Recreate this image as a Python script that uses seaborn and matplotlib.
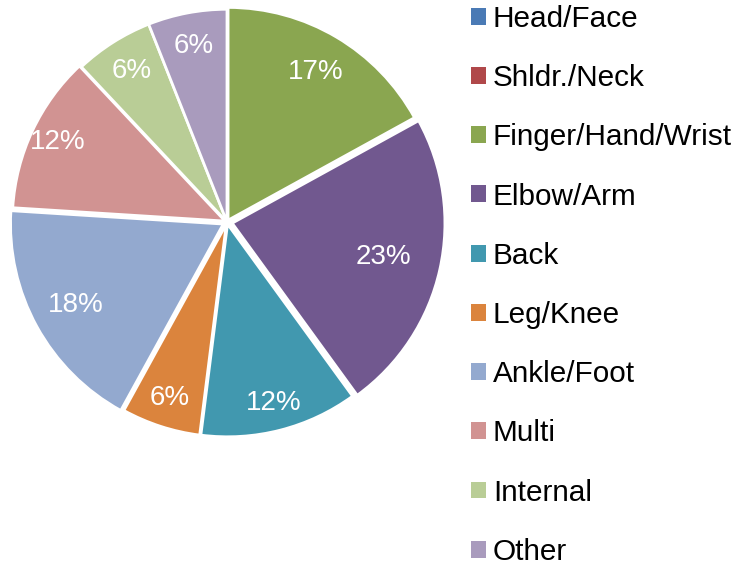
import numpy as np
import matplotlib.pyplot as plt
import seaborn as sns
from matplotlib.patches import Patch

categories = ["Head/Face", "Shldr./Neck", "Finger/Hand/Wrist", "Elbow/Arm", "Back",
              "Leg/Knee", "Ankle/Foot", "Multi", "Internal", "Other"]
shares = [0, 0, 17, 23, 12, 6, 18, 12, 6, 6]
colors = ["#4a7ab5", "#b0484a", "#8aa650", "#71588f", "#4198af",
          "#db843d", "#93a9cf", "#d19392", "#b9cd96", "#a99bbd"]
explode = [0, 0, 0.01, 0.025, 0.01, 0.01, 0.02, 0.01, 0, 0]
# radial position of each percent label (fraction of radius), as Excel placed them
label_dist = [0, 0, 0.81, 0.73, 0.87, 0.86, 0.79, 0.87, 0.84, 0.84]

sns.set_theme(style="white")
plt.rcParams["font.family"] = ["Liberation Sans", "DejaVu Sans"]
palette = sns.color_palette(colors)

fig = plt.figure(figsize=(7.31, 5.65), dpi=100)
ax = fig.add_axes([10 / 731, 126 / 565, 434 / 731, 434 / 565])

wedges, texts, autotexts = ax.pie(
    shares,
    colors=palette,
    startangle=90,
    counterclock=False,
    explode=explode,
    autopct=lambda p: f"{p:.0f}%" if p > 0 else "",
    wedgeprops=dict(edgecolor="white", linewidth=2),
    textprops=dict(color="white", fontsize=20),
)
for w, t, d in zip(wedges, autotexts, label_dist):
    ang = np.deg2rad((w.theta1 + w.theta2) / 2)
    cx, cy = w.center
    t.set_position((cx + d * np.cos(ang), cy + d * np.sin(ang)))

ax.set_xlim(-1.02, 1.02)
ax.set_ylim(-1.02, 1.02)
ax.set_aspect("equal")
ax.axis("off")

handles = [Patch(facecolor=c, edgecolor="none") for c in palette]
leg = fig.legend(
    handles, categories,
    loc="upper left",
    bbox_to_anchor=(459 / 731, 1.0 + 7 / 565),
    frameon=False,
    fontsize=21.4,
    labelspacing=1.05,
    handlelength=0.5,
    handleheight=0.5,
    handletextpad=0.24,
    borderaxespad=0,
)
for t in leg.get_texts():
    t.set_color("black")

fig.savefig("out.png", dpi=100)
